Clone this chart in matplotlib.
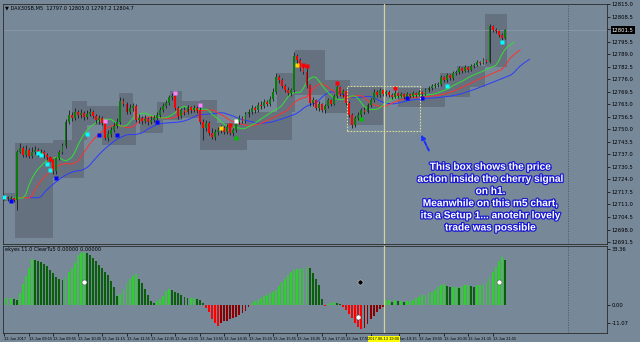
import numpy as np
import matplotlib.pyplot as plt
import matplotlib.patheffects as pe
from matplotlib.patches import Rectangle
from matplotlib.transforms import blended_transform_factory

# DAX30 M5 candles, 13 Jun 2017
close = [
    12714.9, 12713.8, 12714.3, 12713.3, 12738.2, 12740.3, 12736.7, 12739.3, 12736.1, 12738.2,
    12739.3, 12737.2, 12738.2, 12736.7, 12735.6, 12734.1, 12728.4, 12735.1, 12738.2, 12741.3,
    12753.8, 12757.4, 12755.9, 12759.0, 12757.4, 12758.5, 12756.4, 12757.9, 12759.0, 12756.9,
    12754.8, 12755.9, 12753.3, 12745.5, 12747.6, 12749.6, 12751.7, 12753.8, 12764.7, 12763.1,
    12759.0, 12761.0, 12762.1, 12754.8, 12755.9, 12754.3, 12755.3, 12753.8, 12754.8, 12755.9,
    12757.4, 12760.0, 12762.1, 12763.6, 12766.8, 12767.3, 12761.0, 12756.9, 12760.0, 12759.0,
    12761.6, 12760.0, 12761.0, 12760.0, 12753.8, 12750.7, 12753.3, 12748.1, 12746.0, 12748.6,
    12749.6, 12750.7, 12748.6, 12751.2, 12748.1, 12749.6, 12753.8, 12755.9, 12754.3, 12757.9,
    12759.0, 12761.0, 12760.0, 12762.6, 12762.1, 12764.2, 12763.1, 12765.7, 12769.4, 12777.1,
    12775.6, 12772.5, 12770.4, 12768.8, 12770.4, 12788.0, 12786.0, 12781.8, 12779.7, 12773.0,
    12763.6, 12765.2, 12761.0, 12763.1, 12760.0, 12762.1, 12765.2, 12763.1, 12767.3, 12772.0,
    12768.3, 12769.9, 12763.6, 12757.4, 12752.2, 12755.9, 12757.4, 12760.0, 12759.0, 12762.6,
    12765.2, 12769.4, 12767.8, 12770.4, 12768.3, 12769.4, 12767.8, 12766.8, 12768.8, 12767.3,
    12768.3, 12766.8, 12768.3, 12767.3, 12768.8, 12767.8, 12769.4, 12768.3, 12770.4, 12771.4,
    12772.5, 12773.0, 12773.5, 12777.1, 12775.6, 12778.2, 12776.6, 12779.2, 12779.7, 12781.8,
    12780.3, 12782.3, 12780.8, 12782.8, 12783.4, 12784.9, 12784.4, 12786.0, 12784.9, 12803.6,
    12801.5, 12801.0, 12798.9, 12797.4, 12801.5]
high = [
    12715.9, 12715.4, 12715.4, 12714.9, 12739.3, 12742.9, 12741.3, 12741.8, 12740.3, 12740.8,
    12741.3, 12740.3, 12739.8, 12739.3, 12737.7, 12736.1, 12734.6, 12735.6, 12739.3, 12742.9,
    12755.3, 12760.0, 12759.0, 12761.0, 12760.0, 12760.5, 12759.5, 12760.0, 12761.0, 12760.0,
    12757.9, 12757.4, 12756.9, 12754.3, 12749.6, 12751.2, 12753.8, 12755.9, 12766.8, 12766.2,
    12764.2, 12763.1, 12763.6, 12763.1, 12757.9, 12756.9, 12757.4, 12756.4, 12756.9, 12757.4,
    12759.0, 12761.6, 12763.6, 12765.2, 12767.8, 12768.8, 12767.8, 12762.1, 12761.0, 12761.6,
    12762.6, 12762.1, 12762.6, 12762.1, 12761.6, 12755.3, 12754.8, 12754.3, 12750.7, 12750.2,
    12751.2, 12752.2, 12751.7, 12752.7, 12751.7, 12750.7, 12754.8, 12757.4, 12756.9, 12759.0,
    12760.5, 12762.6, 12762.1, 12764.2, 12764.7, 12765.7, 12765.2, 12767.3, 12771.4, 12779.2,
    12778.2, 12776.6, 12773.5, 12772.0, 12771.4, 12790.1, 12789.1, 12787.0, 12782.8, 12781.8,
    12773.5, 12766.8, 12765.7, 12764.7, 12763.6, 12763.1, 12766.2, 12765.7, 12768.3, 12773.0,
    12772.5, 12770.9, 12770.4, 12764.7, 12758.5, 12756.9, 12759.0, 12761.0, 12761.6, 12763.6,
    12766.2, 12770.9, 12770.4, 12771.4, 12770.9, 12770.4, 12770.4, 12768.8, 12770.4, 12769.4,
    12769.4, 12768.8, 12769.4, 12768.8, 12769.9, 12769.4, 12770.4, 12769.9, 12771.4, 12772.5,
    12773.5, 12774.0, 12774.5, 12778.2, 12777.7, 12779.2, 12778.7, 12780.3, 12780.8, 12782.8,
    12782.3, 12783.4, 12782.8, 12783.9, 12784.4, 12786.0, 12785.4, 12787.0, 12786.5, 12804.6,
    12804.1, 12802.6, 12801.5, 12800.0, 12802.1]
low = [
    12713.3, 12712.8, 12712.8, 12712.3, 12708.1, 12737.7, 12735.6, 12735.6, 12735.1, 12735.1,
    12737.2, 12736.1, 12735.6, 12735.1, 12734.1, 12733.0, 12726.8, 12726.8, 12734.1, 12737.2,
    12740.3, 12752.7, 12754.3, 12754.8, 12755.9, 12755.9, 12754.8, 12755.3, 12756.9, 12755.9,
    12753.3, 12752.7, 12752.2, 12744.4, 12743.9, 12746.0, 12748.6, 12750.7, 12752.7, 12762.1,
    12757.9, 12757.9, 12759.5, 12753.8, 12753.3, 12752.7, 12753.3, 12752.2, 12752.7, 12753.8,
    12754.8, 12756.4, 12759.0, 12761.0, 12762.6, 12765.2, 12760.0, 12755.3, 12755.9, 12757.4,
    12757.9, 12758.5, 12759.0, 12758.5, 12752.7, 12744.4, 12749.1, 12747.0, 12745.0, 12744.4,
    12747.0, 12748.1, 12747.6, 12747.6, 12747.0, 12746.5, 12748.6, 12752.7, 12753.3, 12753.3,
    12756.4, 12757.9, 12758.5, 12759.0, 12760.5, 12761.0, 12762.1, 12762.1, 12764.7, 12768.3,
    12774.0, 12771.4, 12769.4, 12767.8, 12767.3, 12769.4, 12783.9, 12780.3, 12778.7, 12771.4,
    12762.1, 12762.1, 12760.0, 12759.5, 12759.0, 12758.5, 12761.0, 12762.1, 12762.6, 12766.2,
    12767.3, 12766.8, 12762.6, 12756.4, 12750.7, 12751.2, 12754.8, 12756.4, 12757.9, 12758.5,
    12761.6, 12764.2, 12766.8, 12766.8, 12767.3, 12767.3, 12766.8, 12765.7, 12766.2, 12766.2,
    12766.8, 12765.7, 12765.7, 12766.2, 12766.8, 12766.8, 12767.3, 12767.3, 12767.8, 12769.4,
    12770.4, 12771.4, 12772.0, 12772.5, 12774.5, 12774.5, 12775.6, 12775.6, 12778.2, 12778.7,
    12779.2, 12779.7, 12779.7, 12780.3, 12781.8, 12782.8, 12783.4, 12783.9, 12784.4, 12784.4,
    12800.5, 12800.0, 12797.9, 12796.3, 12796.9]
first_open = 12714.3

# oscillator histogram (lower window)
osc = [
    4.2, 4.2, 4.2, 3.6, 3.0, 7.2, 12.6, 17.4, 22.2, 27.6,
    27.0, 26.4, 25.8, 24.6, 23.4, 21.0, 19.2, 16.8, 15.6, 15.3,
    16.8, 19.8, 22.2, 25.2, 30.0, 31.2, 31.8, 31.5, 30.0, 28.2,
    26.4, 24.0, 22.2, 19.8, 18.0, 14.4, 10.8, 5.4, 6.6, 9.6,
    13.2, 15.6, 17.4, 18.6, 15.6, 13.2, 9.6, 6.0, 2.4, 1.2,
    2.4, 3.6, 5.4, 8.4, 9.6, 9.0, 7.8, 7.2, 6.0, 4.8,
    4.2, 4.2, 4.2, 3.6, 3.0, 1.2, -1.8, -4.2, -8.4, -10.8,
    -12.6, -10.8, -9.6, -9.3, -8.4, -7.8, -7.2, -6.0, -4.8, -3.3,
    -1.2, 1.2, 2.4, 3.0, 4.2, 5.4, 6.0, 7.2, 7.8, 9.0,
    11.4, 13.8, 15.6, 18.0, 19.8, 21.0, 21.6, 21.9, 22.5, 22.8,
    22.2, 19.2, 15.6, 12.0, 3.6, -0.6, 0.6, 1.2, 1.8, 1.5,
    0.6, -1.2, -3.0, -5.4, -7.8, -10.8, -13.2, -14.4, -13.5, -11.1,
    -8.4, -6.6, -4.2, -2.4, -1.2, 3.0, 3.0, 1.8, 3.0, 2.4,
    2.4, 1.8, 2.4, 2.7, 3.0, 4.2, 4.8, 6.0, 6.0, 7.2,
    7.8, 9.0, 10.8, 12.0, 12.6, 11.4, 10.8, 10.8, 10.8, 10.2,
    11.4, 12.0, 12.0, 11.4, 10.8, 12.0, 12.0, 12.6, 13.8, 16.8,
    19.8, 22.8, 26.4, 28.8, 27.0]

# H1 range boxes (bar from, bar to, low, high)
box_x0 = [-0.5, 3.4, 15.9, 22.1, 27.0, 32.0, 37.5, 44.4, 50.0, 54.3, 58.2, 64.1, 69.0,
          78.9, 89.3, 95.2, 105.1, 112.3, 129.0, 142.8, 148.4, 157.5]
box_x1 = [3.4, 15.9, 26.1, 27.0, 37.5, 43.1, 42.1, 52.0, 54.3, 58.2, 67.0, 69.7, 79.5,
          94.3, 95.2, 105.1, 113.3, 124.1, 144.4, 152.6, 157.5, 164.7]
box_lo = [12712.8, 12693.6, 12724.7, 12744.4, 12752.2, 12741.8, 12754.8, 12748.1, 12754.8,
          12754.8, 12755.9, 12739.3, 12739.3, 12744.4, 12759.0, 12767.8, 12758.5, 12752.2,
          12761.6, 12766.8, 12772.0, 12782.3]
box_hi = [12716.9, 12742.9, 12744.4, 12764.7, 12762.1, 12754.8, 12768.8, 12756.4, 12764.2,
          12769.9, 12764.7, 12765.2, 12753.3, 12759.0, 12779.2, 12791.1, 12775.6, 12772.0,
          12771.4, 12779.2, 12782.8, 12809.8]

# signal dots on the price chart
sig_bar = [0, 2, 11, 12, 14, 15, 15, 17, 27, 31, 33, 37, 50, 56, 64, 71, 74, 76, 76,
           96, 98, 99, 109, 117, 128, 132, 137, 145, 163]
sig_price = [12714.9, 12712.8, 12737.7, 12736.7, 12732.0, 12734.6, 12728.9, 12724.7,
             12747.6, 12747.0, 12754.3, 12747.0, 12753.8, 12768.8, 12762.6, 12750.7,
             12752.2, 12754.3, 12745.5, 12783.4, 12783.4, 12782.8, 12774.0, 12755.3,
             12771.4, 12766.2, 12766.2, 12772.5, 12795.3]
sig_kind = ['c', 'b', 'c', 'c', 'c', 'r', 'c', 'b', 'c', 'b', 'p', 'b', 'b', 'p', 'p', 'y',
            'r', 'w', 'g', 'y', 'r', 'r', 'r', 'g', 'r', 'b', 'b', 'c', 'c']

price_ticks = [12691.5 + 6.5 * k for k in range(20)]
# the 18:35 label sits under the yellow cursor label in the screenshot
time_labels = ["13 Jun 2017", "13 Jun 09:15", "13 Jun 09:55", "13 Jun 10:35", "13 Jun 11:15",
               "13 Jun 11:55", "13 Jun 12:35", "13 Jun 13:15", "13 Jun 13:55", "13 Jun 14:35",
               "13 Jun 15:15", "13 Jun 15:55", "13 Jun 16:35", "13 Jun 17:15", "13 Jun 17:55",
               "", "Jun 19:15", "13 Jun 19:55", "13 Jun 20:35", "13 Jun 21:15",
               "13 Jun 21:55"]
cursor_bar = 124.4
cursor_label = "2017.06.13 19:00"
separator_bar = 184.6
cherry_box = (112.3, 136.2, 12749.1, 12772.5)

note = ("This box shows the price\naction inside the cherry signal\non h1.\n"
        "Meanwhile on this m5 chart,\nits a Setup 1... anotehr lovely\ntrade was possible")

# ---------------------------------------------------------------
bg = '#778899'
C = np.array(close)
H = np.array(high)
L = np.array(low)
O = np.r_[first_open, C[:-1]]
idx = np.arange(len(C))

fig = plt.figure(figsize=(6.4, 3.42), dpi=100, facecolor=bg)
ax = fig.add_axes([3 / 640, 1 - 244 / 342, 604 / 640, 240 / 342], facecolor=bg)
ax2 = fig.add_axes([3 / 640, 1 - 333 / 342, 604 / 640, 87 / 342], facecolor=bg)
xlim = (-0.49, 197.5)

# boxes
for x0, x1, lo, hi in zip(box_x0, box_x1, box_lo, box_hi):
    ax.add_patch(Rectangle((x0, lo), x1 - x0, hi - lo, fc='#65717f', ec='none', zorder=1))

# alligator lines (smoothed median price, shifted forward)
def smma(vals, n):
    out = np.empty(len(vals))
    out[0] = vals[0]
    for i in range(1, len(vals)):
        out[i] = (out[i - 1] * (n - 1) + vals[i]) / n
    return out

med = (H + L) / 2
for n, shift, col in [(13, 8, '#2b3cff'), (8, 5, '#ff3030'), (5, 3, '#33e033')]:
    ax.plot(idx + shift, smma(med, n), color=col, lw=0.7, zorder=2)

# candles
up = C >= O
ax.vlines(idx, L, H, color='#1c1c1c', lw=0.6, zorder=3)
ax.bar(idx, np.maximum(np.abs(C - O), 0.35), bottom=np.minimum(O, C), width=0.62,
       color=np.where(up, '#0a7a0a', '#ff0000'), lw=0, zorder=4)

sig_colors = {'c': '#00ffff', 'b': '#0000ff', 'r': '#ff0000', 'p': '#ff80ff',
              'y': '#ffd700', 'g': '#00c000', 'w': '#ffffff'}
for b, p, k in zip(sig_bar, sig_price, sig_kind):
    ax.plot(b, p, 's', ms=2.6, color=sig_colors[k], mec='none', zorder=5)

# bid line, cursor line, separator
ax.axhline(C[-1], color='#8f9cab', lw=0.5, zorder=1.5)
for a in (ax, ax2):
    a.axvline(cursor_bar, color='#d2d29a', lw=0.9, zorder=6)
    a.axvline(separator_bar, color='#4f5964', lw=0.6, ls=(0, (1.5, 1.5)), zorder=1)

# dotted rectangle + arrow + note
x0, x1, lo, hi = cherry_box
ax.add_patch(Rectangle((x0, lo), x1 - x0, hi - lo, fill=False, ec='#dcdc9a', lw=0.8,
                       ls=(0, (1.5, 1.2)), zorder=6))
ax.annotate('', xy=(x1, lo - 0.6), xytext=(x1 + 3.3, 12737.7),
            arrowprops=dict(arrowstyle='-|>', color='#1a30ff', lw=1.4,
                            linestyle=(0, (2, 1)), mutation_scale=6), zorder=7)
ax.text(159.3, 12733.2, note, ha='center', va='top', fontsize=7.3, fontweight='bold',
        family='Liberation Sans', color='white', linespacing=1.27, zorder=8,
        path_effects=[pe.withStroke(linewidth=1.8, foreground='#1a1ad0')])

ax.text(0.004, 0.995, "\u25bc DAX30SB,M5  12797.0 12805.0 12797.2 12804.7",
        transform=ax.transAxes, va='top', ha='left', fontsize=3.6, color='black')

ax.set_xlim(*xlim)
ax.set_ylim(12690.5, 12815.0)
ax.set_yticks(price_ticks)
ax.set_yticklabels([f"{v:.1f}" for v in price_ticks])
ax.yaxis.tick_right()
ax.tick_params(axis='y', labelsize=3.8, length=2, width=0.5, pad=1.5, colors='black')
ax.set_xticks([])
ax.annotate(f"{C[-1]:.1f}", xy=(1.0, C[-1]), xycoords=('axes fraction', 'data'),
            xytext=(3.5, 0), textcoords='offset points', va='center', ha='left',
            fontsize=3.8, color='white',
            bbox=dict(boxstyle='square,pad=0.25', fc='black', ec='none'), zorder=10)

# oscillator
osc_a = np.array(osc)
prev = np.r_[osc_a[0], osc_a[:-1]]
cols = np.where(osc_a >= 0,
                np.where(osc_a >= prev, '#32cd32', '#0a600a'),
                np.where(osc_a <= prev, '#ff0000', '#8b0000'))
ax2.bar(idx, osc_a, width=0.62, color=cols, lw=0, zorder=3)
ax2.plot([26, 116, 162], [13.8, -7.2, 13.8], 'o', ms=3.6, mfc='white', mec='#333333',
         mew=0.3, zorder=5)
ax2.plot([116.4], [13.8], 'o', ms=3.6, mfc='black', mec='white', mew=0.3, zorder=5)
ax2.text(0.004, 0.985, "ekyes 11.0 ClearTu5 0.00000 0.00000", transform=ax2.transAxes,
         va='top', ha='left', fontsize=3.6, color='black')
ax2.set_xlim(*xlim)
ax2.set_ylim(-16.8, 35.4)
ax2.set_yticks([33.36, 0.0, -11.07])
ax2.set_yticklabels(["33.36", "0.00", "-11.07"])
ax2.yaxis.tick_right()
ax2.tick_params(axis='y', labelsize=3.8, length=2, width=0.5, pad=1.5, colors='black')
ticks = np.arange(0, 8 * len(time_labels), 8).astype(float)
ticks[16] += 1.2
ax2.set_xticks(ticks)
ax2.set_xticklabels(time_labels, ha='left', family='Liberation Sans')
ax2.tick_params(axis='x', labelsize=2.9, length=2, width=0.5, pad=1.2, colors='black')
ax2.text(cursor_bar, -0.045, cursor_label,
         transform=blended_transform_factory(ax2.transData, ax2.transAxes),
         ha='center', va='top', fontsize=2.9, color='black', family='Liberation Sans',
         clip_on=False, zorder=10,
         bbox=dict(boxstyle='square,pad=0.2', fc='#ffff00', ec='none'))

for a in (ax, ax2):
    for s in a.spines.values():
        s.set_color('#2a2a2a')
        s.set_linewidth(0.6)

fig.savefig('out.png', dpi=100, facecolor=bg)
